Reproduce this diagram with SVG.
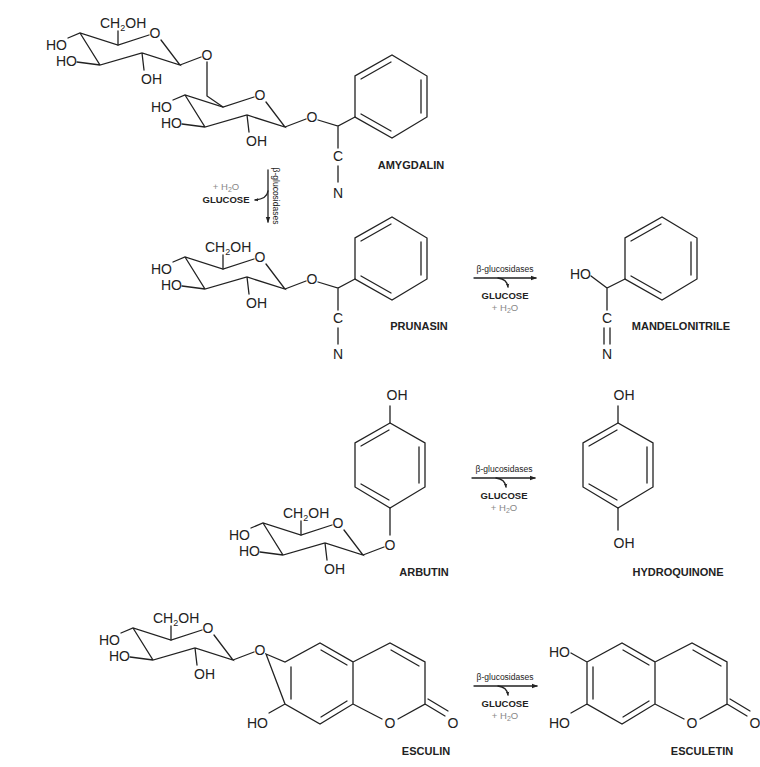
<svg xmlns="http://www.w3.org/2000/svg" xmlns:xlink="http://www.w3.org/1999/xlink" width="760" height="767" viewBox="0 0 760 767">
<style>
.b{stroke:#222;stroke-width:1.3;fill:none;stroke-linecap:round}
.t{font-family:"Liberation Sans",Arial,sans-serif;font-size:14px;fill:#222}
.m{text-anchor:middle}
.e{text-anchor:end}
.lab{font-family:"Liberation Sans",Arial,sans-serif;font-size:11px;font-weight:bold;fill:#222;text-anchor:middle}
.enz{font-family:"Liberation Sans",Arial,sans-serif;font-size:8.5px;fill:#222;text-anchor:middle}
.glu{font-family:"Liberation Sans",Arial,sans-serif;font-size:9.5px;font-weight:bold;fill:#222;text-anchor:middle}
.w{font-family:"Liberation Sans",Arial,sans-serif;font-size:9.5px;fill:#888;text-anchor:middle}
</style>
<defs>
<marker id="ah" viewBox="0 0 6 6" refX="5" refY="3" markerUnits="userSpaceOnUse" markerWidth="6" markerHeight="6" orient="auto"><path d="M0,0.8 L6,3 L0,5.2z" fill="#222"/></marker>
<marker id="sh" viewBox="0 0 6 6" refX="5" refY="3" markerUnits="userSpaceOnUse" markerWidth="4" markerHeight="4" orient="auto"><path d="M0,0.5 L6,3 L0,5.5z" fill="#222"/></marker>
<g id="glc">
<path class="b" d="M-12,5 L0,0 L38,12 L69,2 M81,7 L100,32 L62,20 L20,32 L0,0 M-3,29 L20,32 M62,20 L64,37 M100,32 L121,24"/>
<text class="t e" x="-13" y="17">HO</text>
<text class="t e" x="-3" y="33">HO</text>
<text class="t" x="61" y="51">OH</text>
<text class="t m" x="75" y="5">O</text>
<text class="t m" x="127" y="27">O</text>
</g>
<g id="ch2oh">
<path class="b" d="M38,12 L38,-2"/>
<text class="t" x="20" y="-5">CH<tspan font-size="9" dy="3">2</tspan><tspan dy="-3">OH</tspan></text>
</g>
<g id="ph">
<path class="b" d="M0,0 L0,-41 L37,-62 L72,-41 L72,0 L37,21 Z M36,-55 L6,-38 M66,-37 L66,-4 M6,-3 L36,14"/>
</g>
<g id="pq">
<path class="b" d="M0,0 L-35,20 L-35,64 L0,85 L35,64 L35,20 Z M-1,7 L-29,23 M29,24 L29,60 M-29,61 L-1,77"/>
</g>
</defs>

<g id="amygdalin">
<use xlink:href="#glc" transform="translate(80,33)"/>
<use xlink:href="#ch2oh" transform="translate(80,33)"/>
<use xlink:href="#glc" transform="translate(185,95)"/>
<path class="b" d="M207,62 L207,96 L223,107 M318,120 L338,126 L355,117 M338,126 L338,148 M338,166 L338,182"/>
<use xlink:href="#ph" transform="translate(355,117)"/>
<text class="t m" x="338" y="161">C</text>
<text class="t m" x="338" y="198">N</text>
<text class="lab" x="411" y="169">AMYGDALIN</text>
</g>

<g id="prunasin">
<use xlink:href="#glc" transform="translate(185,257)"/>
<use xlink:href="#ch2oh" transform="translate(185,257)"/>
<path class="b" d="M318,282 L338,288 L355,279 M338,288 L338,310 M338,328 L338,344"/>
<use xlink:href="#ph" transform="translate(355,279)"/>
<text class="t m" x="338" y="323">C</text>
<text class="t m" x="338" y="359">N</text>
<text class="lab" x="419" y="330">PRUNASIN</text>
</g>

<g id="mandelonitrile">
<path class="b" d="M591,276 L607,288 L625,279 M607,288 L607,310 M604,328 L604,344 M610,328 L610,344"/>
<use xlink:href="#ph" transform="translate(625,279)"/>
<text class="t e" x="591" y="279">HO</text>
<text class="t m" x="607" y="323">C</text>
<text class="t m" x="607" y="359">N</text>
<text class="lab" x="681" y="330">MANDELONITRILE</text>
</g>

<g id="arbutin">
<use xlink:href="#glc" transform="translate(263,523)"/>
<use xlink:href="#ch2oh" transform="translate(263,523)"/>
<use xlink:href="#pq" transform="translate(390,423)"/>
<path class="b" d="M390,423 L390,406 M390,508 L390,535"/>
<text class="t m" x="397" y="400">OH</text>
<text class="lab" x="424" y="576">ARBUTIN</text>
</g>

<g id="hydroquinone">
<use xlink:href="#pq" transform="translate(618,423)"/>
<path class="b" d="M618,423 L618,406 M618,508 L618,530"/>
<text class="t m" x="624" y="400">OH</text>
<text class="t m" x="624" y="548">OH</text>
<text class="lab" x="678" y="576">HYDROQUINONE</text>
</g>

<g id="esculin">
<use xlink:href="#glc" transform="translate(133,628)"/>
<use xlink:href="#ch2oh" transform="translate(133,628)"/>
<path class="b" d="M266,654 L285,662 L320,643 L353,662 L353,704 L320,724 L285,704 Z M291,667 L291,699 M321,650 L347,665 M321,717 L347,701 M353,662 L390,643 L425,662 L425,704 L398,719 M382,719 L353,704 M391,650 L419,666 M425,704 L445,716 M428,699 L448,711 M285,704 L269,713"/>
<text class="t e" x="268" y="728">HO</text>
<text class="t m" x="390" y="728">O</text>
<text class="t m" x="453" y="728">O</text>
<text class="lab" x="426" y="755">ESCULIN</text>
</g>

<g id="esculetin" transform="translate(302,0)">
<path class="b" d="M285,662 L320,643 L353,662 L353,704 L320,724 L285,704 Z M291,667 L291,699 M321,650 L347,665 M321,717 L347,701 M353,662 L390,643 L425,662 L425,704 L398,719 M382,719 L353,704 M391,650 L419,666 M425,704 L445,716 M428,699 L448,711 M285,704 L269,713 M285,662 L269,653"/>
<text class="t e" x="268" y="728">HO</text>
<text class="t e" x="268" y="657">HO</text>
<text class="t m" x="390" y="728">O</text>
<text class="t m" x="453" y="728">O</text>
<text class="lab" x="400" y="755">ESCULETIN</text>
</g>

<g id="connectors">
<path class="b" d="M268,170 L268,222" marker-end="url(#ah)"/>
<path class="b" d="M268,191 Q267,199 255,200" marker-end="url(#sh)"/>
<text class="enz" transform="translate(273,196) rotate(90)">β-glucosidases</text>
<text class="w" x="226" y="190">+ H<tspan font-size="7" dy="2">2</tspan><tspan dy="-2">O</tspan></text>
<text class="glu" x="226" y="203">GLUCOSE</text>

<path class="b" d="M474,278 L536,278" marker-end="url(#ah)"/>
<path class="b" d="M498,278 Q507,279 508,287" marker-end="url(#sh)"/>
<text class="enz" x="505" y="272">β-glucosidases</text>
<text class="glu" x="505" y="299">GLUCOSE</text>
<text class="w" x="505" y="311">+ H<tspan font-size="7" dy="2">2</tspan><tspan dy="-2">O</tspan></text>

<path class="b" d="M472,478 L535,478" marker-end="url(#ah)"/>
<path class="b" d="M496,478 Q505,479 506,487" marker-end="url(#sh)"/>
<text class="enz" x="504" y="472">β-glucosidases</text>
<text class="glu" x="504" y="499">GLUCOSE</text>
<text class="w" x="504" y="511">+ H<tspan font-size="7" dy="2">2</tspan><tspan dy="-2">O</tspan></text>

<path class="b" d="M474,686 L537,686" marker-end="url(#ah)"/>
<path class="b" d="M498,686 Q507,687 508,695" marker-end="url(#sh)"/>
<text class="enz" x="505" y="680">β-glucosidases</text>
<text class="glu" x="505" y="707">GLUCOSE</text>
<text class="w" x="505" y="719">+ H<tspan font-size="7" dy="2">2</tspan><tspan dy="-2">O</tspan></text>
</g>
</svg>
